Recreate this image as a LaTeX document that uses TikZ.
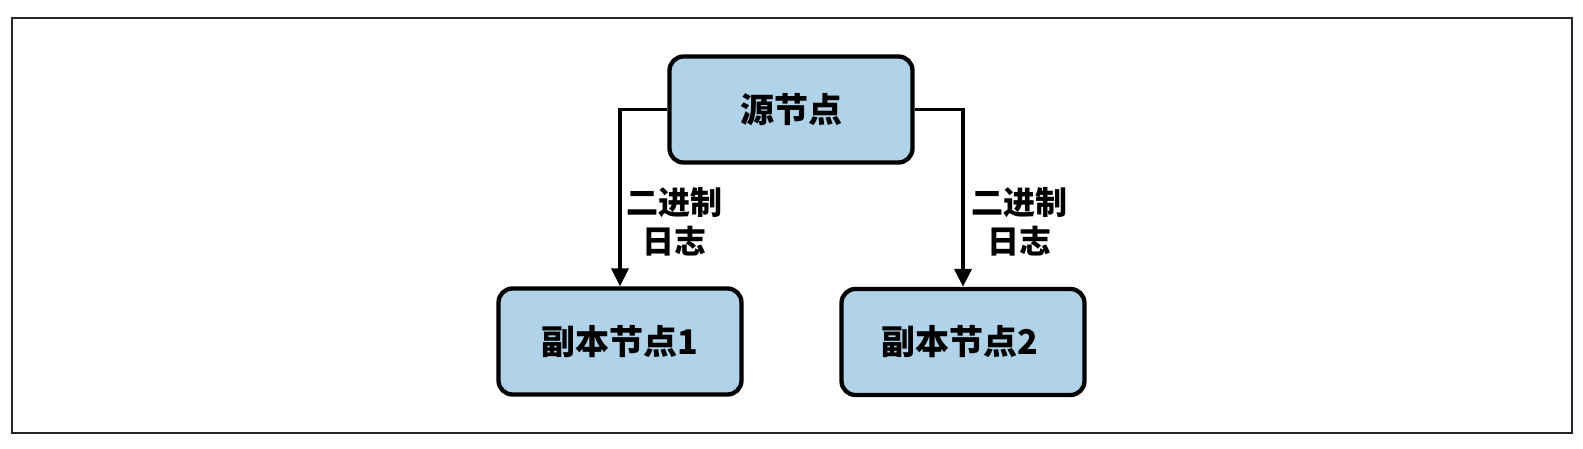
\documentclass[tikz,border=0pt]{standalone}
\usepackage{fontspec}
\setmainfont{Liberation Sans}
\newfontfamily\cjk{Noto Sans CJK SC}
\usetikzlibrary{arrows.meta}
\definecolor{boxblue}{RGB}{176,211,234}
\begin{document}
\begin{tikzpicture}[x=1pt,y=-1pt,
  nodebox/.style={draw=black,line width=4.3pt,fill=boxblue,rounded corners=14pt,
    minimum width=243pt,minimum height=106pt,inner sep=0pt,font=\cjk\bfseries\fontsize{34}{38}\selectfont},
  conn/.style={line width=3.8pt,-{Triangle[width=17pt,length=18pt]}},
  lbl/.style={align=center,font=\cjk\bfseries\fontsize{32}{39}\selectfont,inner sep=0pt}]
\useasboundingbox (0,0) rectangle (1583,449);
\draw[line width=1.3pt,draw=black!85] (12,18) rectangle (1572,433);
\node[nodebox] (src) at (791,109.5) {源节点};
\node[nodebox] (r1) at (620,341.5) {副本节点1};
\node[nodebox] (r2) at (963,342) {副本节点2\hspace*{6pt}};
\draw[conn] (src.west) -| (r1.north);
\draw[conn] (src.east) -| (r2.north);
\node[lbl] (l1) at (674,222) {二进制\\日志};
\node[lbl] (l2) at (1019,222) {二进制\\日志};
\end{tikzpicture}
\end{document}
